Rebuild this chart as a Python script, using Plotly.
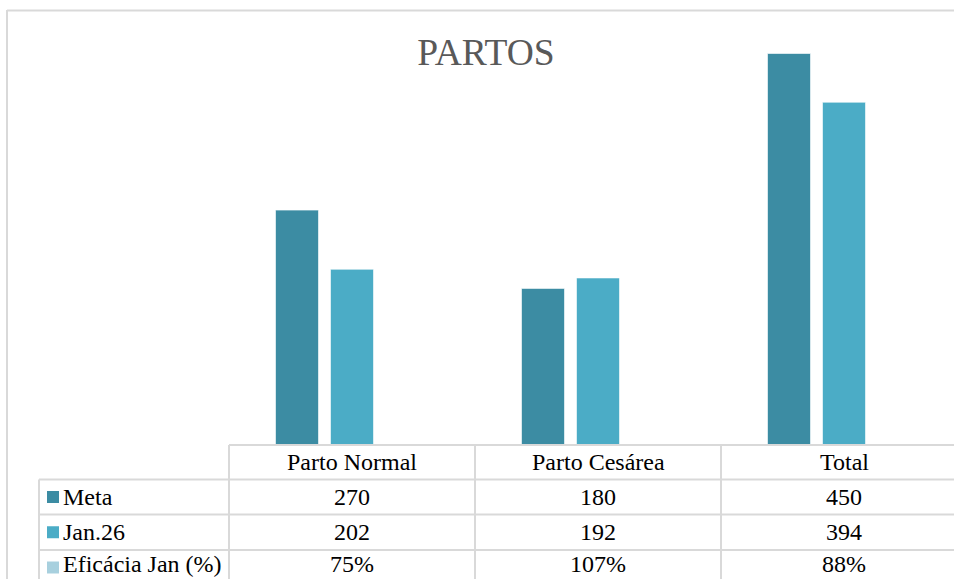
import plotly.graph_objects as go

categories = ["Parto Normal", "Parto Cesárea", "Total"]
meta = [270, 180, 450]
jan26 = [202, 192, 394]
eficacia = [0.75, 1.07, 0.88]
series_names = ["Meta", "Jan.26", "Eficácia Jan (%)"]
series_colors = ["#3C8CA3", "#4BACC6", "#A8D0DE"]

W, H = 954, 579
ML, MR, MT, MB = 229, 0, 10, 134
PW, PH = W - ML - MR, H - MT - MB
COLW = 246
XR = [-0.5, -0.5 + PW / COLW]
YR = [0, 500]

def px2paper_x(px):
    return (px - ML) / PW

def py2paper_y(py):
    return (H - MB - py) / PH

def idx2paper_x(v):
    return (v - XR[0]) / (XR[1] - XR[0])

fig = go.Figure()
for name, vals, col in zip(series_names, [meta, jan26, eficacia], series_colors):
    fig.add_trace(go.Bar(
        x=categories, y=vals, name=name,
        marker=dict(color=col, line=dict(color="rgba(255,255,255,0.6)", width=1)),
        showlegend=False, hoverinfo="x+y+name",
    ))

line_col = "#D9D9D9"
lw = 2
shapes = []
# chart border (left and top)
shapes.append(dict(type="line", xref="paper", yref="paper",
                   x0=px2paper_x(7), x1=px2paper_x(W), y0=py2paper_y(10.5), y1=py2paper_y(10.5),
                   line=dict(color=line_col, width=lw)))
shapes.append(dict(type="line", xref="paper", yref="paper",
                   x0=px2paper_x(7), x1=px2paper_x(7), y0=py2paper_y(10), y1=py2paper_y(H),
                   line=dict(color=line_col, width=lw)))
# table horizontal lines
row_bounds = [445, 479.5, 514.5, 550]
for i, ry in enumerate(row_bounds):
    x0 = ML if i == 0 else 39
    shapes.append(dict(type="line", xref="paper", yref="paper",
                       x0=px2paper_x(x0), x1=px2paper_x(W), y0=py2paper_y(ry), y1=py2paper_y(ry),
                       line=dict(color=line_col, width=lw)))
# table vertical lines
for b in [-0.5, 0.5, 1.5]:
    shapes.append(dict(type="line", xref="paper", yref="paper",
                       x0=idx2paper_x(b), x1=idx2paper_x(b), y0=py2paper_y(445), y1=py2paper_y(H),
                       line=dict(color=line_col, width=lw)))
shapes.append(dict(type="line", xref="paper", yref="paper",
                   x0=px2paper_x(39), x1=px2paper_x(39), y0=py2paper_y(479.5), y1=py2paper_y(H),
                   line=dict(color=line_col, width=lw)))

annotations = []
font = dict(family="Liberation Serif, Times New Roman, serif", size=24, color="#000000")
header_y = (445 + 479.5) / 2
row_centers = [(479.5 + 514.5) / 2, (514.5 + 550) / 2, 550 + 17.5]
for c in categories:
    annotations.append(dict(x=c, xref="x", y=py2paper_y(header_y), yref="paper", text=c,
                            showarrow=False, font=font, xanchor="center", yanchor="middle"))
rows = [
    [str(v) for v in meta],
    [str(v) for v in jan26],
    [f"{round(v * 100)}%" for v in eficacia],
]
for ri, (name, col, vals) in enumerate(zip(series_names, series_colors, rows)):
    yc = row_centers[ri]
    last = ri == len(rows) - 1
    ty = py2paper_y(H) if last else py2paper_y(yc)
    ya = "bottom" if last else "middle"
    for c, t in zip(categories, vals):
        annotations.append(dict(x=c, xref="x", y=ty, yref="paper", text=t,
                                showarrow=False, font=font, xanchor="center", yanchor=ya))
    annotations.append(dict(x=px2paper_x(61), xref="paper", y=ty, yref="paper", text=name,
                            showarrow=False, font=font, xanchor="left", yanchor=ya))
    shapes.append(dict(type="rect", xref="paper", yref="paper",
                       x0=px2paper_x(47), x1=px2paper_x(59),
                       y0=py2paper_y(yc - 6), y1=py2paper_y(yc + 6),
                       fillcolor=col, line=dict(width=0)))

fig.update_layout(
    width=W, height=H,
    margin=dict(l=ML, r=MR, t=MT, b=MB),
    paper_bgcolor="white", plot_bgcolor="white",
    barmode="group", bargap=1 - 165 / 246, bargroupgap=12 / 55,
    title=dict(text="PARTOS", x=px2paper_x(486), xref="paper", xanchor="center",
               y=1 - 52 / H, yref="container", yanchor="middle",
               font=dict(family="Liberation Serif, Times New Roman, serif", size=37.5, color="#595959")),
    xaxis=dict(range=XR, showticklabels=False, showgrid=False, zeroline=False, showline=False, fixedrange=True),
    yaxis=dict(range=YR, visible=False, fixedrange=True),
    shapes=shapes, annotations=annotations,
)

fig.write_html("out.html")
